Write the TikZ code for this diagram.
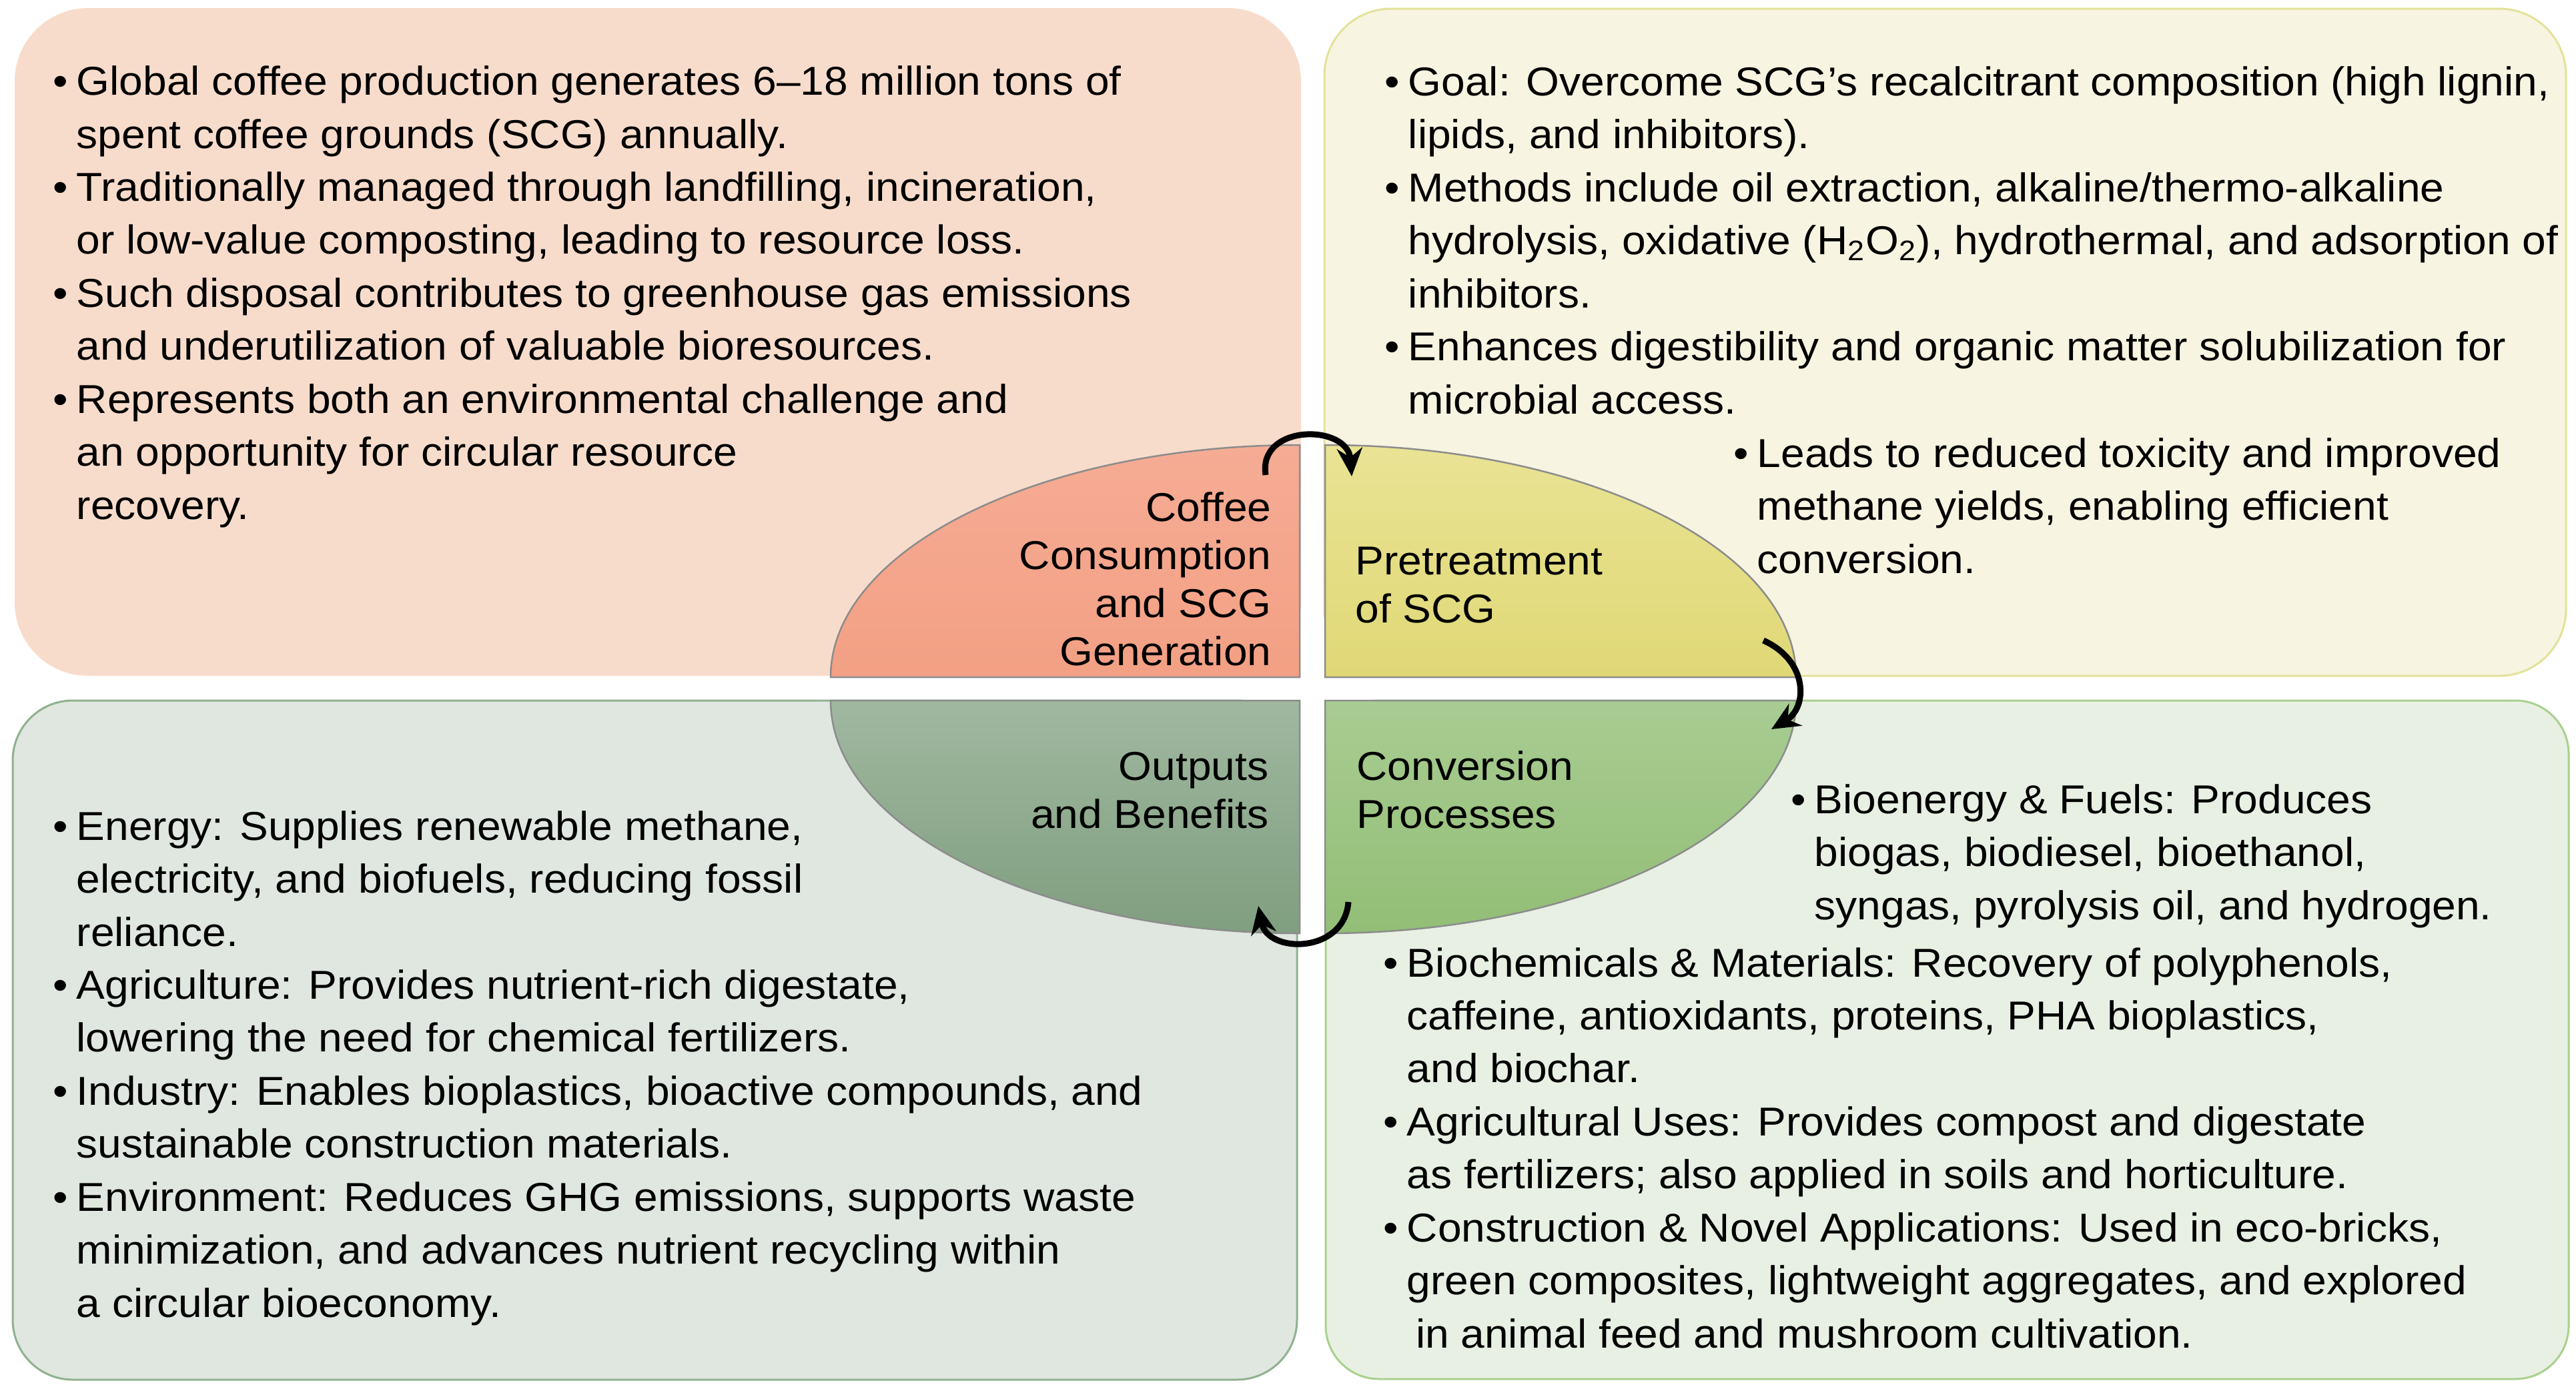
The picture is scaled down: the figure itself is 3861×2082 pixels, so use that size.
\documentclass[tikz,border=0pt]{standalone}
\usepackage{fontspec}
\setmainfont{Liberation Sans}[FakeStretch=1.06]
\usetikzlibrary{arrows.meta}
\definecolor{boxA}{HTML}{F8DCCB}
\definecolor{boxB}{HTML}{F7F4E1}
\definecolor{boxC}{HTML}{E0E6E0}
\definecolor{boxD}{HTML}{E8F0E3}
\definecolor{lineB}{HTML}{E3E29A}
\definecolor{lineC}{HTML}{8FB28F}
\definecolor{lineD}{HTML}{A9D18E}
\newcommand{\bul}{\makebox[0.58em][l]{•}}
\newcommand{\ind}{\hspace*{0.58em}}
\begin{document}
\begin{tikzpicture}[x=0.1mm, y=-0.1mm,
  txt/.style={anchor=base west, align=left, inner sep=0pt, font=\fontsize{17.2}{22.6}\selectfont}]
  \tikzset{lbl/.style={inner sep=0pt, font=\fontsize{17.2}{20.4}\selectfont}}
  \tikzset{quad/.style={draw=black!45, line width=0.25mm}}
  \tikzset{cyc/.style={line width=0.9mm, -{Stealth[length=4.2mm, width=3.8mm]}}}
  \useasboundingbox (0,0) rectangle (3861,2082);
  % panels
  \fill[boxA, rounded corners=11mm] (22,12) rectangle (1950,1013);
  \filldraw[fill=boxB, draw=lineB, line width=0.3mm, rounded corners=10mm] (1985,13) rectangle (3846,1013);
  \filldraw[fill=boxC, draw=lineC, line width=0.3mm, rounded corners=9mm] (19,1050) rectangle (1944,2068);
  \filldraw[fill=boxD, draw=lineD, line width=0.3mm, rounded corners=8mm] (1987,1050) rectangle (3850,2067);
  % quarters of the cycle
  \shade[quad, top color={rgb,255:red,245;green,172;blue,148}, bottom color={rgb,255:red,243;green,160;blue,132}]
    (1948,1015) -- (1245,1015) arc[start angle=180, end angle=90, x radius=70.3mm, y radius=34.8mm] -- cycle;
  \shade[quad, top color={rgb,255:red,233;green,227;blue,148}, bottom color={rgb,255:red,224;green,216;blue,118}]
    (1986,1015) -- (1986,667) arc[start angle=90, end angle=0, x radius=70.6mm, y radius=34.8mm] -- cycle;
  \shade[quad, top color={rgb,255:red,168;green,204;blue,146}, bottom color={rgb,255:red,146;green,190;blue,118}]
    (1986,1050) -- (2692,1050) arc[start angle=0, end angle=-90, x radius=70.6mm, y radius=34.9mm] -- cycle;
  \shade[quad, top color={rgb,255:red,160;green,184;blue,160}, bottom color={rgb,255:red,128;green,158;blue,128}]
    (1948,1050) -- (1948,1399) arc[start angle=-90, end angle=-180, x radius=70.3mm, y radius=34.9mm] -- cycle;
  % stage labels
  \node[lbl, anchor=base east, align=right] (consump) at (1906,997) {Coffee\\Consumption\\and SCG\\Generation};
  \node[lbl, anchor=base west, align=left] (pretreat) at (2031,933) {Pretreatment\\of SCG};
  \node[lbl, anchor=base west, align=left] (convers) at (2033,1241) {Conversion\\Processes};
  \node[lbl, anchor=base east, align=right] (outputs) at (1902,1241) {Outputs\\and Benefits};
  % cycle arrows
  \coordinate (a1) at (1897,712);
  \coordinate (b1) at (2026,714);
  \coordinate (a2) at (2643,960);
  \coordinate (b2) at (2655,1093);
  \coordinate (a3) at (2021,1352);
  \coordinate (b3) at (1886,1358);
  \draw[cyc] (a1) .. controls (1885,635) and (2020,635) .. (b1);
  \draw[cyc] (a2) .. controls (2710,990) and (2710,1060) .. (b2);
  \draw[cyc] (a3) .. controls (2015,1430) and (1900,1430) .. (b3);
  % panel texts (anchored at the last line)
  \node[txt] (scgtext) at (79,778) {\bul Global coffee production generates 6–18 million tons of\\
    \ind spent coffee grounds (SCG) annually.\\
    \bul Traditionally managed through landfilling, incineration,\\
    \ind or low-value composting, leading to resource loss.\\
    \bul Such disposal contributes to greenhouse gas emissions\\
    \ind and underutilization of valuable bioresources.\\
    \bul Represents both an environmental challenge and\\
    \ind an opportunity for circular resource\\
    \ind recovery.};
  \node[txt] (pretext) at (2075,620) {\bul Goal: Overcome SCG’s recalcitrant composition (high lignin,\\
    \ind lipids, and inhibitors).\\
    \bul Methods include oil extraction, alkaline/thermo-alkaline\\
    \ind hydrolysis, oxidative (H\textsubscript{2}O\textsubscript{2}), hydrothermal, and adsorption of\\
    \ind inhibitors.\\
    \bul Enhances digestibility and organic matter solubilization for\\
    \ind microbial access.};
  \node[txt] (pretext2) at (2598,859) {\bul Leads to reduced toxicity and improved\\
    \ind methane yields, enabling efficient\\
    \ind conversion.};
  \node[txt] (outtext) at (79,1974) {\bul Energy: Supplies renewable methane,\\
    \ind electricity, and biofuels, reducing fossil\\
    \ind reliance.\\
    \bul Agriculture: Provides nutrient-rich digestate,\\
    \ind lowering the need for chemical fertilizers.\\
    \bul Industry: Enables bioplastics, bioactive compounds, and\\
    \ind sustainable construction materials.\\
    \bul Environment: Reduces GHG emissions, supports waste\\
    \ind minimization, and advances nutrient recycling within\\
    \ind a circular bioeconomy.};
  \node[txt] (convtext) at (2684,1378) {\bul Bioenergy \& Fuels: Produces\\
    \ind biogas, biodiesel, bioethanol,\\
    \ind syngas, pyrolysis oil, and hydrogen.};
  \node[txt] (convtext2) at (2073,2020) {\bul Biochemicals \& Materials: Recovery of polyphenols,\\
    \ind caffeine, antioxidants, proteins, PHA bioplastics,\\
    \ind and biochar.\\
    \bul Agricultural Uses: Provides compost and digestate\\
    \ind as fertilizers; also applied in soils and horticulture.\\
    \bul Construction \& Novel Applications: Used in eco-bricks,\\
    \ind green composites, lightweight aggregates, and explored\\
    \hspace*{0.8em}in animal feed and mushroom cultivation.};
\end{tikzpicture}
\end{document}
